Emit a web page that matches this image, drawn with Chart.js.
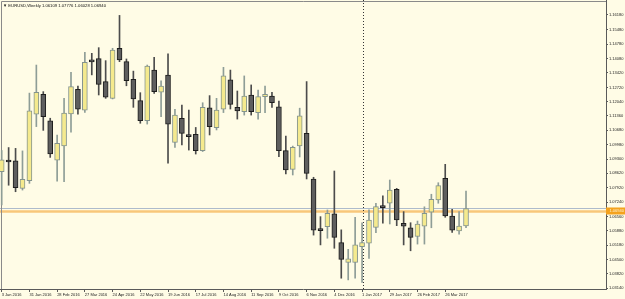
<!DOCTYPE html>
<html>
<head>
<meta charset="utf-8">
<script src="https://cdn.jsdelivr.net/npm/chart.js@4/dist/chart.umd.min.js"></script>
<style>
  html, body { margin: 0; padding: 0; background: #FFFCE6; }
  #wrap { position: relative; width: 625px; height: 299px; }
  #title { position: absolute; left: 3px; top: 2.5px; font: 4.2px "Liberation Sans", Arial, sans-serif; line-height: 5px; color: #111; white-space: nowrap; }
</style>
</head>
<body>
<div id="wrap">
  <canvas id="chart" width="625" height="299"></canvas>
  <div id="title">▼ EURUSD,Weekly 1.06109 1.07776 1.06028 1.06940</div>
</div>
<script>
// weekly candles, week 0 = 3 Jan 2016
const opens  = [1.0870,1.0919,1.0921,1.0790,1.0827,1.1144,1.1239,1.1112,1.0925,1.0993,1.1145,1.1263,1.1164,1.1398,1.1410,1.1300,1.1220,1.1459,1.1395,1.1311,1.1209,1.1113,1.1355,1.1249,1.1331,1.1010,1.1125,1.1046,1.1048,1.0970,1.1175,1.1080,1.1168,1.1308,1.1177,1.1156,1.1236,1.1151,1.1228,1.1231,1.1180,1.0970,1.0881,1.0993,1.1053,1.0835,1.0593,1.0607,1.0668,1.0531,1.0437,1.0437,1.0512,1.0528,1.0604,1.0704,1.0719,1.0786,1.0623,1.0602,1.0560,1.0610,1.0676,1.0735,1.0838,1.0658,1.0587,1.06109];
const highs  = [1.0971,1.0985,1.0981,1.0969,1.1245,1.1379,1.1252,1.1125,1.1045,1.1220,1.1344,1.1279,1.1440,1.1435,1.1462,1.1400,1.1459,1.1616,1.1408,1.1350,1.1247,1.1379,1.1416,1.1304,1.1432,1.1168,1.1188,1.1164,1.1081,1.1199,1.1233,1.1220,1.1368,1.1355,1.1255,1.1327,1.1284,1.1260,1.1279,1.1249,1.1207,1.1040,1.0992,1.1173,1.1300,1.0843,1.0655,1.0687,1.0873,1.0592,1.0499,1.0652,1.0626,1.0687,1.0719,1.0754,1.0830,1.0790,1.0679,1.0626,1.0634,1.0702,1.0762,1.0817,1.0905,1.0690,1.0679,1.07776];
const lows   = [1.0711,1.0805,1.0774,1.0782,1.0814,1.1085,1.1067,1.0938,1.0825,1.0822,1.1058,1.1144,1.1153,1.1332,1.1236,1.1220,1.1217,1.1395,1.1280,1.1177,1.1101,1.1097,1.1244,1.1132,1.0910,1.0986,1.0998,1.0973,1.0954,1.0966,1.1045,1.1069,1.1152,1.1169,1.1121,1.1140,1.1140,1.1121,1.1151,1.1177,1.0941,1.0859,1.0854,1.0940,1.0835,1.0567,1.0520,1.0552,1.0504,1.0361,1.0353,1.0361,1.0341,1.0456,1.0578,1.0624,1.0620,1.0612,1.0520,1.0492,1.0524,1.0524,1.0602,1.0719,1.0652,1.0580,1.0571,1.06028];
const closes = [1.0926,1.0916,1.0793,1.0833,1.1160,1.1249,1.1132,1.0955,1.1005,1.1149,1.1276,1.1168,1.1392,1.1394,1.1287,1.1225,1.1451,1.1403,1.1304,1.1217,1.1113,1.1374,1.1252,1.1279,1.1097,1.1140,1.1053,1.1037,1.0970,1.1177,1.1085,1.1164,1.1327,1.1191,1.1160,1.1231,1.1156,1.1228,1.1239,1.1199,1.0970,1.0878,1.0986,1.1137,1.0862,1.0591,1.0588,1.0671,1.0556,1.0451,1.0453,1.0520,1.0531,1.0639,1.0703,1.0698,1.0782,1.0639,1.0610,1.0556,1.0619,1.0671,1.0738,1.0803,1.0658,1.0591,1.0610,1.06940];

const dateLabels = ['3 Jan 2016','31 Jan 2016','28 Feb 2016','27 Mar 2016','24 Apr 2016','22 May 2016','19 Jun 2016','17 Jul 2016','14 Aug 2016','11 Sep 2016','9 Oct 2016','6 Nov 2016','4 Dec 2016','1 Jan 2017','29 Jan 2017','26 Feb 2017','26 Mar 2017'];
const dateWeeks = [0,4,8,12,16,20,24,28,32,36,40,44,48,52,56,60,64];
const priceTicks = [1.16180,1.15480,1.14780,1.14080,1.13420,1.12720,1.12040,1.11360,1.10680,1.09980,1.09300,1.08620,1.07920,1.07240,1.06560,1.05880,1.05180,1.04500,1.03820,1.03140];
const separatorWeeks = [52];
const bidPrice = 1.06940;
const levelPrice = 1.0680;

const weeks = opens.map((o, i) => i);
const up = i => closes[i] >= opens[i];

const overlay = {
  id: 'overlay',
  beforeDatasetsDraw(chart) {
    const {ctx, chartArea: a, scales: {x, y}} = chart;
    ctx.save();
    // level lines
    ctx.strokeStyle = '#F8C77A';
    ctx.lineWidth = 2.5;
    ctx.beginPath();
    ctx.moveTo(a.left, y.getPixelForValue(levelPrice));
    ctx.lineTo(a.right, y.getPixelForValue(levelPrice));
    ctx.stroke();
    ctx.strokeStyle = '#AEBBCB';
    ctx.lineWidth = 1;
    ctx.beginPath();
    ctx.moveTo(a.left, Math.round(y.getPixelForValue(bidPrice)) + 0.5);
    ctx.lineTo(a.right, Math.round(y.getPixelForValue(bidPrice)) + 0.5);
    ctx.stroke();
    // period separators
    ctx.strokeStyle = '#333';
    ctx.setLineDash([1, 2]);
    separatorWeeks.forEach(w => {
      const px = Math.round(x.getPixelForValue(w)) + 1.5;
      ctx.beginPath();
      ctx.moveTo(px, a.top);
      ctx.lineTo(px, a.bottom);
      ctx.stroke();
    });
    ctx.setLineDash([]);
    // frame
    ctx.strokeStyle = '#8a8a8a';
    ctx.beginPath();
    ctx.moveTo(1.5, a.bottom);
    ctx.lineTo(1.5, 1.5);
    ctx.lineTo(a.right, 1.5);
    ctx.stroke();
    ctx.restore();
  },
  afterDraw(chart) {
    const {ctx, chartArea: a, scales: {y}} = chart;
    const py = y.getPixelForValue(bidPrice) + 2.5;
    ctx.save();
    ctx.fillStyle = '#F4A21E';
    ctx.fillRect(a.right, py - 3.5, 625 - a.right, 7);
    ctx.fillStyle = '#FFF4D6';
    ctx.font = '4px "Liberation Sans", Arial, sans-serif';
    ctx.textBaseline = 'middle';
    ctx.fillText(bidPrice.toFixed(5), a.right + 3.5, py);
    ctx.restore();
  }
};

let chart = new Chart(document.getElementById('chart'), {
  type: 'bar',
  data: {
    datasets: [
      {
        data: weeks.map(i => ({x: i, y: [opens[i], closes[i]]})),
        backgroundColor: ctx => up(ctx.dataIndex) ? '#F5EA8E' : '#5E5E5E',
        borderColor: ctx => up(ctx.dataIndex) ? '#84948E' : '#1E1E1E',
        borderWidth: 1,
        borderSkipped: false,
        barThickness: 5,
        minBarLength: 2,
        grouped: false
      },
      {
        data: weeks.map(i => ({x: i, y: [lows[i], highs[i]]})),
        backgroundColor: ctx => up(ctx.dataIndex) ? '#8E9D97' : '#4C4C4C',
        borderWidth: 0,
        barThickness: 1,
        grouped: false
      }
    ]
  },
  options: {
    responsive: false,
    animation: false,
    devicePixelRatio: 1,
    layout: { padding: 0 },
    plugins: { legend: { display: false }, tooltip: { enabled: false } },
    scales: {
      x: {
        type: 'linear',
        position: 'bottom',
        min: -0.245,
        max: 87.2,
        offset: false,
        afterBuildTicks: s => { s.ticks = dateWeeks.map(v => ({value: v})); },
        afterFit: s => { s.height = 10; s.paddingLeft = 0; s.paddingRight = 0; },
        grid: { drawOnChartArea: false, offset: false, tickLength: 3, color: '#5a5a5a' },
        border: { color: '#5a5a5a' },
        ticks: {
          autoSkip: false, maxRotation: 0, align: 'start', padding: 0,
          color: '#222', font: { family: 'Liberation Sans', size: 4 },
          callback: (v, i) => dateLabels[i]
        }
      },
      y: {
        position: 'right',
        min: 1.03095,
        max: 1.16896,
        afterBuildTicks: s => { s.ticks = priceTicks.map(v => ({value: v})); },
        afterFit: s => { s.width = 19; s.paddingTop = 0; s.paddingBottom = 0; },
        grid: { drawOnChartArea: false, tickLength: 2, color: '#5a5a5a' },
        border: { color: '#5a5a5a' },
        ticks: {
          padding: 1, color: '#222', font: { family: 'Liberation Sans', size: 4 },
          callback: v => v.toFixed(5)
        }
      }
    }
  },
  plugins: [overlay]
});
</script>
</body>
</html>
